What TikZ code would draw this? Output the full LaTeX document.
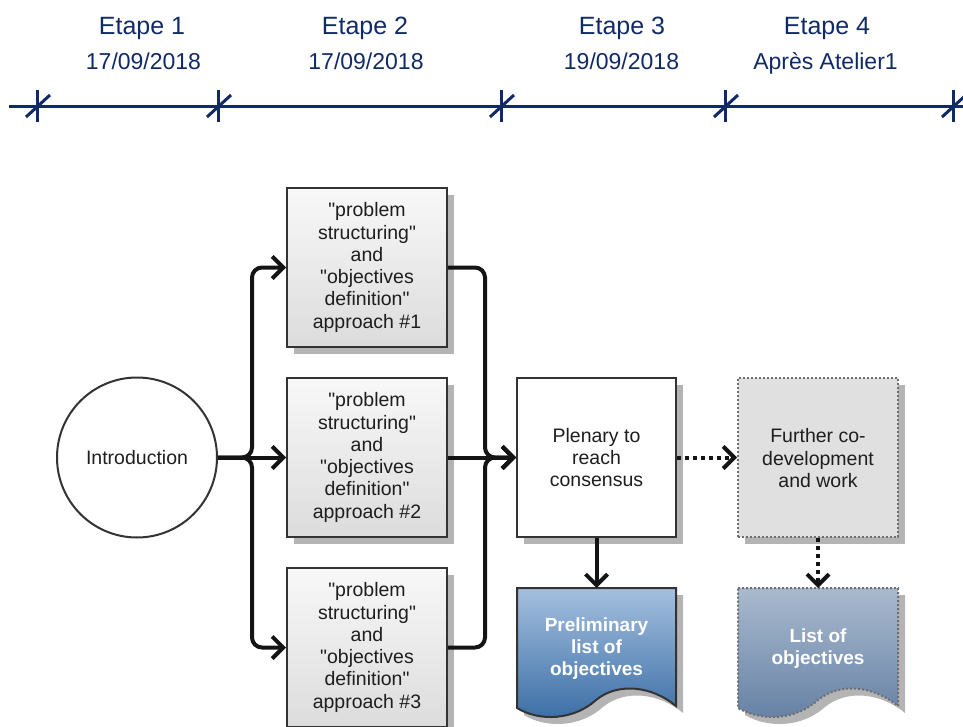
\documentclass[tikz,border=0pt]{standalone}
\usepackage{fontspec}
\setmainfont{Liberation Sans}[Ligatures=TeXOff]
\usetikzlibrary{arrows.meta,shadows}
\definecolor{navy}{RGB}{16,42,104}
\definecolor{bordergray}{RGB}{51,51,51}
\definecolor{shadowgray}{RGB}{180,180,180}
\definecolor{boxtop}{RGB}{248,248,248}
\definecolor{boxbot}{RGB}{220,220,220}
\definecolor{furfill}{RGB}{224,224,224}
\definecolor{dottedgray}{RGB}{110,110,110}
\definecolor{pretop}{RGB}{165,192,222}
\definecolor{prebot}{RGB}{56,108,165}
\definecolor{lotop}{RGB}{170,186,206}
\definecolor{lobot}{RGB}{100,128,164}
\definecolor{txt}{RGB}{30,30,30}
\tikzset{
  boxtext/.style={font=\fontsize{19.5}{22.3}\selectfont, text=txt, align=center},
  shadowed/.style={drop shadow={shadow xshift=7pt, shadow yshift=-7pt, fill=shadowgray, opacity=1}},
  pbox/.style={boxtext, shadowed, draw=bordergray, line width=2pt, top color=boxtop, bottom color=boxbot, minimum width=160pt, minimum height=159pt, inner sep=0pt},
  plenbox/.style={boxtext, shadowed, draw=bordergray, line width=2pt, fill=white, minimum width=159pt, minimum height=159pt, inner sep=0pt},
  furbox/.style={boxtext, shadowed, draw=dottedgray, line width=2pt, dash pattern=on 2pt off 2pt, fill=furfill, minimum width=160pt, minimum height=159pt, inner sep=0pt},
  doctext/.style={font=\bfseries\fontsize{19}{22}\selectfont, text=white, align=center, minimum width=159pt, minimum height=120pt, inner sep=0pt},
  conn/.style={line width=4pt, draw=black!92, -{Straight Barb[length=11pt,width=22pt,line width=4pt]}},
  dconn/.style={conn, dash pattern=on 4pt off 4pt},
  tl/.style={line width=3pt, draw=navy},
  etape/.style={font=\fontsize{25}{28}\selectfont, text=navy, anchor=base},
  date/.style={font=\fontsize{23}{26}\selectfont, text=navy, anchor=base}
}
\begin{document}
\begin{tikzpicture}[x=1pt,y=-1pt]
\useasboundingbox (0,0) rectangle (963,727);
% timeline
\draw[tl] (9,107) -- (963,107);
\foreach \X in {37,218,501,725,953}{
  \draw[tl] (\X,90) -- (\X,122);
  \draw[tl] (\X-11,117) -- (\X+13,95);
}
\node[etape] (e1) at (142,35) {Etape 1};
\node[date]  (d1) at (143.5,70) {17/09/2018};
\node[etape] (e2) at (365,35) {Etape 2};
\node[date]  (d2) at (366,70) {17/09/2018};
\node[etape] (e3) at (622,35) {Etape 3};
\node[date]  (d3) at (621.5,70) {19/09/2018};
\node[etape] (e4) at (827,35) {Etape 4};
\node[date]  (d4) at (825.5,70) {Après Atelier1};

% introduction
\node[circle, draw=bordergray, line width=2pt, fill=white, minimum size=160pt, inner sep=0pt, boxtext] (intro) at (137,457.5) {Introduction};

% approach boxes
\node[pbox] (b1) at (367,267.5) {"problem\\structuring"\\and\\"objectives\\definition"\\approach \#1};
\node[pbox] (b2) at (367,457.5) {"problem\\structuring"\\and\\"objectives\\definition"\\approach \#2};
\node[pbox] (b3) at (367,647.5) {"problem\\structuring"\\and\\"objectives\\definition"\\approach \#3};

% plenary and further
\node[plenbox] (plen) at (596.5,457.5) {Plenary to\\reach\\consensus};
\node[furbox] (fur) at (818,457.5) {\strut Further co-\\development\\and work};

% documents
\fill[shadowgray] (524,595) -- (683,595) -- (683,713) .. controls (659,693) and (625,689) .. (603,707) .. controls (581,727) and (547,729) .. (524,715) -- cycle;
\draw[draw=bordergray, line width=2pt, top color=pretop, bottom color=prebot] (517,588) -- (676,588) -- (676,706) .. controls (652,686) and (618,682) .. (596,700) .. controls (574,720) and (540,722) .. (517,708) -- cycle;
\node[doctext, anchor=north] (prelim) at (596.5,588) {Preliminary\\list of\\objectives};

\fill[shadowgray] (745,595) -- (905,595) -- (905,713) .. controls (881,693) and (847,689) .. (825,707) .. controls (803,727) and (769,729) .. (745,715) -- cycle;
\draw[draw=dottedgray, line width=2pt, dash pattern=on 2pt off 2pt, top color=lotop, bottom color=lobot] (738,588) -- (898,588) -- (898,706) .. controls (874,686) and (840,682) .. (818,700) .. controls (796,720) and (762,722) .. (738,708) -- cycle;
\node[doctext, anchor=north] (lobj) at (818,588) {List of\\objectives};

% connectors
\coordinate (j1) at (252,457.5);
\coordinate (j2) at (485,457.5);
\draw[conn] (intro.east) -- (b2.west);
\draw[conn, rounded corners=10pt] (intro.east) -- (j1) |- (b1.west);
\draw[conn, rounded corners=10pt] (intro.east) -- (j1) |- (b3.west);
\draw[conn] (b2.east) -- (plen.west);
\draw[conn, rounded corners=10pt] (b1.east) -| (j2) -- (plen.west);
\draw[conn, rounded corners=10pt] (b3.east) -| (j2) -- (plen.west);
\draw[dconn] (plen.east) -- (fur.west);
\draw[conn] (plen.south) -- (prelim.north);
\draw[dconn] (fur.south) -- (lobj.north);
\end{tikzpicture}
\end{document}
